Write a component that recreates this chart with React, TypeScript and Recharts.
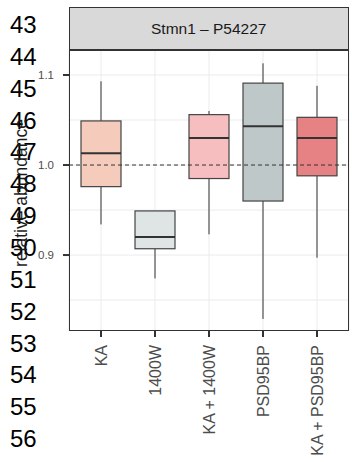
import React from "react";
import {
  Bar,
  CartesianGrid,
  ComposedChart,
  ReferenceLine,
  XAxis,
  YAxis,
} from "recharts";

const groups = ["KA", "1400W", "KA + 1400W", "PSD95BP", "KA + PSD95BP"];
const lowWhisker = [0.934, 0.874, 0.923, 0.829, 0.897];
const q1 = [0.976, 0.907, 0.985, 0.96, 0.988];
const medians = [1.013, 0.92, 1.03, 1.043, 1.03];
const q3 = [1.049, 0.949, 1.056, 1.091, 1.053];
const highWhisker = [1.093, 0.949, 1.06, 1.113, 1.088];
const fills = ["#F4C7B6", "#DCE3E3", "#F6B9BB", "#B9C3C4", "#E4777A"];
const yTicks = [0.9, 1.0, 1.1];
const gridLines = [0.85, 0.9, 0.95, 1.0, 1.05, 1.1];
const lineNumbers = [43, 44, 45, 46, 47, 48, 49, 50, 51, 52, 53, 54, 55, 56];

const data = groups.map((g, i) => ({
  name: g,
  box: [q1[i], q3[i]],
  lo: lowWhisker[i],
  q1: q1[i],
  med: medians[i],
  q3: q3[i],
  hi: highWhisker[i],
  fill: fills[i],
}));

const BoxShape = (props: any) => {
  const { x, y, width, height, payload } = props;
  const k = height / (payload.q3 - payload.q1);
  const cx = x + width / 2;
  const top = y - (payload.hi - payload.q3) * k;
  const bottom = y + height + (payload.q1 - payload.lo) * k;
  const medY = y + (payload.q3 - payload.med) * k;
  return (
    <g>
      <line x1={cx} x2={cx} y1={top} y2={y} stroke="#333" strokeWidth={1} />
      <line x1={cx} x2={cx} y1={y + height} y2={bottom} stroke="#333" strokeWidth={1} />
      <rect x={x} y={y} width={width} height={height} fill={payload.fill} fillOpacity={0.92} stroke="#444" strokeWidth={1.2} />
      <line x1={x} x2={x + width} y1={medY} y2={medY} stroke="#333" strokeWidth={2} />
    </g>
  );
};

const XTick = (props: any) => {
  const { x, y, payload } = props;
  return (
    <g transform={`translate(${x},${y})`}>
      <text
        transform="rotate(-90)"
        x={-6}
        dy="0.35em"
        textAnchor="end"
        fill="#4d4d4d"
        fontSize={16}
        fontFamily="Liberation Sans, Arial, sans-serif"
      >
        {payload.value}
      </text>
    </g>
  );
};

export default function App() {
  return (
    <div style={{ position: "absolute", left: 0, top: 0, width: 352, height: 462 }}>
      <ComposedChart
        width={352}
        height={462}
        data={data}
        margin={{ top: 50, right: 3, bottom: 0, left: 0 }}
      >
        <CartesianGrid stroke="#EBEBEB" horizontalValues={gridLines} />
        <XAxis
          dataKey="name"
          type="category"
          padding={{ left: 5, right: 5 }}
          height={131}
          tickSize={6}
          tickLine={{ stroke: "#333", strokeWidth: 2 }}
          axisLine={false}
          tick={<XTick />}
          interval={0}
        />
        <YAxis
          type="number"
          domain={[0.8156, 1.1278]}
          allowDataOverflow
          ticks={yTicks}
          tickFormatter={(v: number) => v.toFixed(1)}
          width={69}
          tickSize={6}
          tickMargin={9}
          tickLine={{ stroke: "#333", strokeWidth: 2 }}
          axisLine={false}
          tick={{ fill: "#4d4d4d", fontSize: 11.5, fontFamily: "Liberation Sans, Arial, sans-serif" }}
        />
        <Bar dataKey="box" barSize={40} shape={<BoxShape />} isAnimationActive={false} />
        <ReferenceLine y={1.0} stroke="#333" strokeDasharray="4 3" strokeWidth={1} />
      </ComposedChart>
      <div
        style={{
          position: "absolute",
          left: 68.5,
          top: 50,
          width: 280.5,
          height: 281,
          boxSizing: "border-box",
          border: "1.5px solid #333",
          pointerEvents: "none",
        }}
      />
      <div
        style={{
          position: "absolute",
          left: 68.5,
          top: 7,
          width: 280.5,
          height: 44,
          boxSizing: "border-box",
          border: "1.5px solid #333",
          borderBottomWidth: 2,
          background: "#D9D9D9",
          display: "flex",
          alignItems: "center",
          justifyContent: "center",
          fontFamily: "Liberation Sans, Arial, sans-serif",
          fontSize: 15.5,
          color: "#1a1a1a",
        }}
      >
        Stmn1 – P54227
      </div>
      <svg
        width={352}
        height={462}
        style={{ position: "absolute", left: 0, top: 0, pointerEvents: "none" }}
      >
        {lineNumbers.map((n, i) => (
          <text
            key={n}
            x={10}
            y={33 + i * 31.85}
            fontSize={24}
            fill="#000"
            fontFamily="Liberation Sans, Arial, sans-serif"
          >
            {n}
          </text>
        ))}
        <text
          transform="translate(27,193) rotate(-90)"
          textAnchor="middle"
          fontSize={17.5}
          fill="#1a1a1a"
          fontFamily="Liberation Sans, Arial, sans-serif"
        >
          relative abundance
        </text>
      </svg>
    </div>
  );
}
